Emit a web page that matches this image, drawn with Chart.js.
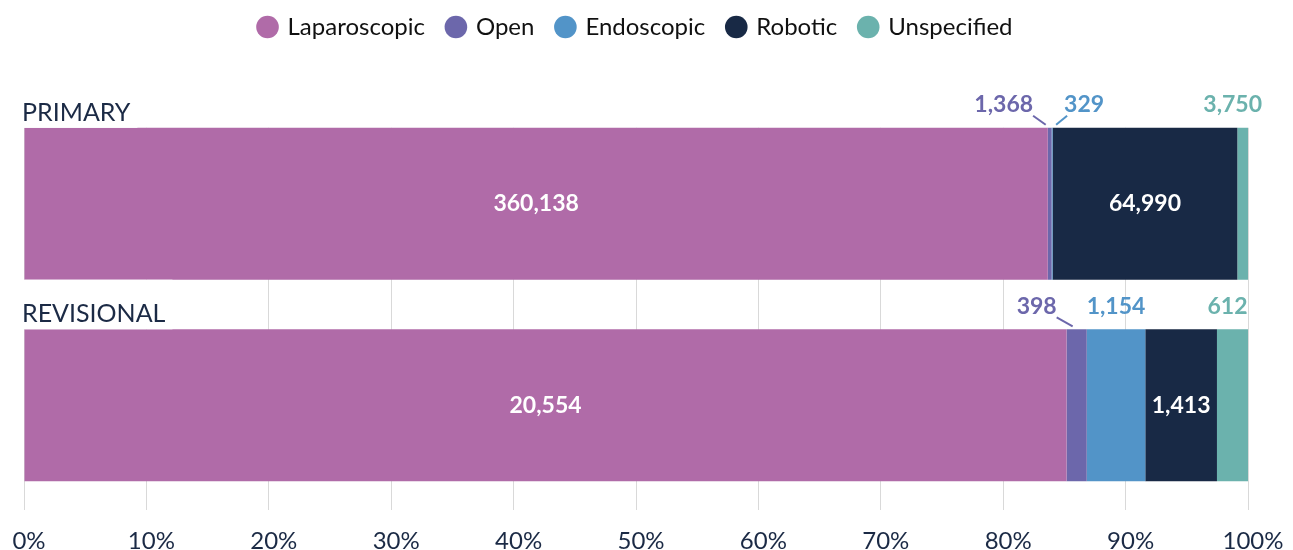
<!DOCTYPE html>
<html>
<head>
<meta charset="utf-8">
<script src="https://cdn.jsdelivr.net/npm/chart.js@4.4.1/dist/chart.umd.min.js"></script>
<style>
  html, body { margin: 0; padding: 0; background: #ffffff; }
  #wrap { width: 1293px; height: 550px; position: relative; }
</style>
</head>
<body>
<div id="wrap"><canvas id="approachChart"></canvas></div>
<script>
const categories = ["PRIMARY", "REVISIONAL"];
const seriesNames = ["Laparoscopic", "Open", "Endoscopic", "Robotic", "Unspecified"];

// procedure counts per category
const laparoscopic = [360138, 20554];
const open = [1368, 398];
const endoscopic = [329, 1154];
const robotic = [64990, 1413];
const unspecified = [3750, 612];

const tickLabels = ["0%", "10%", "20%", "30%", "40%", "50%", "60%", "70%", "80%", "90%", "100%"];

const seriesColors = ["#b06ba8", "#6c67ab", "#5294c8", "#182945", "#6bb2ad"];
const fontFamily = "Lato, 'Noto Sans', sans-serif";
const navy = "#1b2a45";

// small labels sitting above the bar get nudged sideways
const calloutShift = {
  "Open|PRIMARY": -46,
  "Endoscopic|PRIMARY": 32,
  "Unspecified|PRIMARY": -10,
  "Open|REVISIONAL": -40,
  "Unspecified|REVISIONAL": -5
};

const allCounts = [laparoscopic, open, endoscopic, robotic, unspecified];

const totals = categories.map((_, j) =>
  allCounts.reduce((sum, counts) => sum + counts[j], 0)
);

function toShares(counts) {
  return counts.map((value, j) => (value / totals[j]) * 100);
}

const datasets = seriesNames.map((name, i) => ({
  label: name,
  data: toShares(allCounts[i]),
  counts: allCounts[i],
  backgroundColor: seriesColors[i],
  borderWidth: 0,
  barPercentage: 0.754,
  categoryPercentage: 1
}));

const labelPlugin = {
  id: "labelPlugin",

  beforeInit(chart) {
    // leave room between the legend and the first bar
    const legend = chart.legend;
    const originalFit = legend.fit;
    legend.fit = function () {
      originalFit.call(this);
      this.height = 111;
    };
  },

  beforeDatasetsDraw(chart) {
    const ctx = chart.ctx;
    const area = chart.chartArea;
    const firstBar = chart.getDatasetMeta(0).data[0];
    const barTop = firstBar.y - firstBar.height / 2;

    // no grid above the first bar
    ctx.save();
    ctx.fillStyle = "#ffffff";
    ctx.fillRect(area.left - 5, area.top - 1, area.right - area.left + 10, barTop - area.top + 1);
    ctx.restore();
  },

  afterDatasetsDraw(chart) {
    const ctx = chart.ctx;
    const area = chart.chartArea;
    const firstMeta = chart.getDatasetMeta(0);

    ctx.save();

    // category names above each bar
    ctx.font = "25px " + fontFamily;
    ctx.textAlign = "left";
    ctx.textBaseline = "alphabetic";
    firstMeta.data.forEach((bar, j) => {
      const barTop = bar.y - bar.height / 2;
      const previous = j > 0 ? firstMeta.data[j - 1] : null;
      const gapTop = previous ? previous.y + previous.height / 2 : area.top;
      const width = ctx.measureText(categories[j]).width;

      ctx.fillStyle = "#ffffff";
      ctx.fillRect(area.left - 5, gapTop, width + 10, barTop - gapTop);

      ctx.fillStyle = navy;
      ctx.fillText(categories[j], area.left - 2, barTop - 7);
    });

    // value labels
    ctx.font = "bold 23px " + fontFamily;
    ctx.textAlign = "center";
    ctx.textBaseline = "middle";

    chart.data.datasets.forEach((dataset, i) => {
      const meta = chart.getDatasetMeta(i);

      meta.data.forEach((bar, j) => {
        const text = dataset.counts[j].toLocaleString("en-US");
        const left = Math.min(bar.x, bar.base);
        const right = Math.max(bar.x, bar.base);
        const middle = (left + right) / 2;
        const textWidth = ctx.measureText(text).width;

        if (right - left > textWidth + 10) {
          ctx.fillStyle = "#ffffff";
          ctx.fillText(text, middle, bar.y);
          return;
        }

        const barTop = bar.y - bar.height / 2;
        const shift = calloutShift[dataset.label + "|" + categories[j]] || 0;
        const labelX = middle + shift;
        const labelY = barTop - 23;

        ctx.fillStyle = dataset.backgroundColor;
        ctx.fillText(text, labelX, labelY);

        if (Math.abs(shift) > 20) {
          const side = shift < 0 ? 1 : -1;
          ctx.strokeStyle = dataset.backgroundColor;
          ctx.lineWidth = 2;
          ctx.beginPath();
          ctx.moveTo(labelX + side * (textWidth / 2 + (side > 0 ? 0 : -3)), labelY + 11);
          ctx.lineTo(middle - side * 4, barTop - 3);
          ctx.stroke();
        }
      });
    });

    ctx.restore();
  }
};

new Chart(document.getElementById("approachChart"), {
  type: "bar",
  data: {
    labels: categories,
    datasets
  },
  options: {
    indexAxis: "y",
    responsive: true,
    maintainAspectRatio: false,
    animation: false,
    layout: {
      padding: { top: -8, left: 24, right: 45, bottom: 0 }
    },
    scales: {
      x: {
        stacked: true,
        min: 0,
        max: 100,
        ticks: {
          stepSize: 10,
          color: navy,
          padding: 19,
          labelOffset: 5,
          maxRotation: 0,
          font: { family: fontFamily, size: 24, lineHeight: 1 },
          callback: (value, index) => tickLabels[index]
        },
        grid: {
          color: "#d9d9d9",
          lineWidth: 1,
          tickLength: 4
        },
        border: { display: false },
        afterFit(scale) {
          scale.height = 44;
          scale.paddingLeft = 0;
          scale.paddingRight = 0;
        }
      },
      y: {
        stacked: true,
        display: false
      }
    },
    plugins: {
      legend: {
        position: "top",
        labels: {
          usePointStyle: true,
          pointStyle: "circle",
          boxWidth: 16,
          boxHeight: 16,
          padding: 23,
          color: "#111111",
          font: { family: fontFamily, size: 24 }
        }
      },
      tooltip: { enabled: false }
    }
  },
  plugins: [labelPlugin]
});
</script>
</body>
</html>
